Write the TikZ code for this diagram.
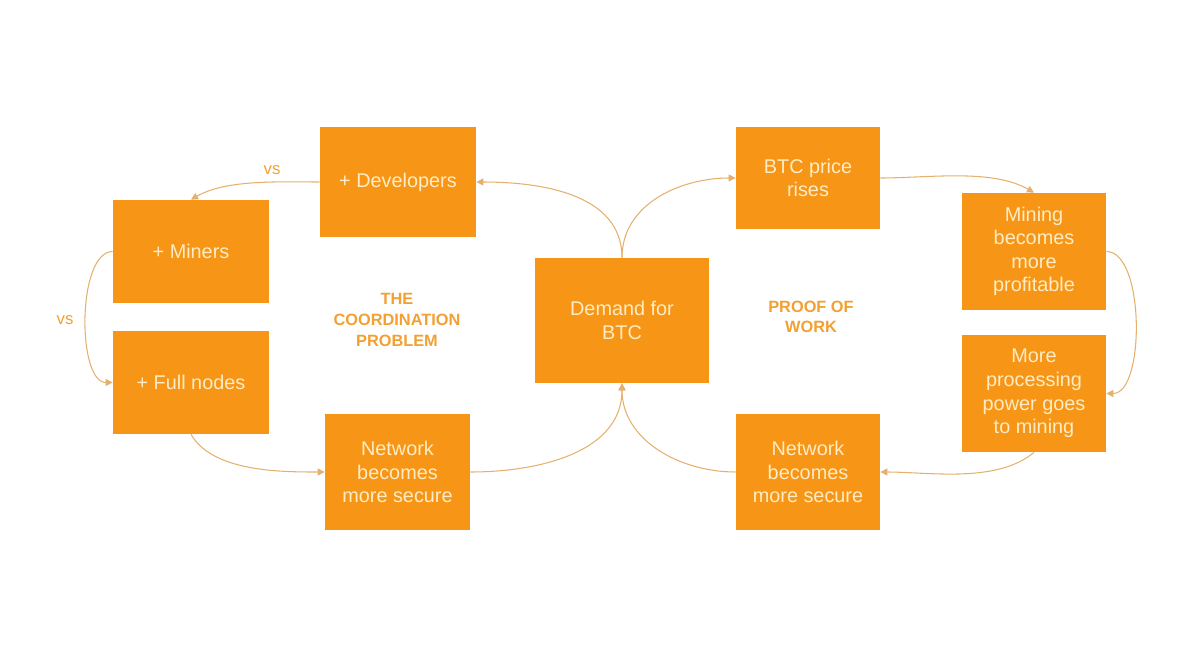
\documentclass[tikz,border=0pt]{standalone}
\usepackage{fontspec}
\setmainfont{Liberation Sans}
\usetikzlibrary{arrows.meta}
\definecolor{boxfill}{RGB}{247,150,22}
\definecolor{boxtext}{RGB}{255,236,196}
\definecolor{linecol}{RGB}{228,176,110}
\definecolor{labcol}{RGB}{242,160,50}
\tikzset{
  box/.style={fill=boxfill, draw=none, inner sep=0pt, align=center, text=boxtext,
    font=\fontsize{11.3}{13.4}\selectfont},
  conn/.style={draw=linecol, line width=0.6pt, -{Triangle[length=4pt,width=4pt]}},
  lab/.style={text=labcol, align=center, font=\bfseries\fontsize{9.3}{11.7}\selectfont},
  vslab/.style={text=labcol, font=\fontsize{9.5}{11}\selectfont}
}
\begin{document}
\begin{tikzpicture}[x=0.02cm,y=-0.02cm]
\useasboundingbox (0,0) rectangle (1200,659);
\node[box, minimum width=156*0.02cm, minimum height=110*0.02cm] (dev) at (398,182) {+ Developers};
\node[box, minimum width=156*0.02cm, minimum height=103*0.02cm] (miners) at (191,251.5) {+ Miners};
\node[box, minimum width=156*0.02cm, minimum height=103*0.02cm] (full) at (191,382.5) {+ Full nodes};
\node[box, minimum width=145*0.02cm, minimum height=116*0.02cm] (netL) at (397.5,472) {Network\\becomes\\more secure};
\node[box, minimum width=174*0.02cm, minimum height=125*0.02cm] (demand) at (622,320.5) {Demand for\\BTC};
\node[box, minimum width=144*0.02cm, minimum height=102*0.02cm] (btc) at (808,178) {BTC price\\rises};
\node[box, minimum width=144*0.02cm, minimum height=117*0.02cm] (mining) at (1034,251.5) {Mining\\becomes\\more\\profitable};
\node[box, minimum width=144*0.02cm, minimum height=117*0.02cm] (proc) at (1034,393.5) {More\\processing\\power goes\\to mining};
\node[box, minimum width=144*0.02cm, minimum height=116*0.02cm] (netR) at (808,472) {Network\\becomes\\more secure};

\node[lab] (coord) at (397,320) {THE\\COORDINATION\\PROBLEM};
\node[lab] (pow) at (811,317) {PROOF OF\\WORK};
\node[vslab] (vs1) at (272,170) {vs};
\node[vslab] (vs2) at (65,320) {vs};

\draw[conn] (demand.north) to[out=90,in=0] (dev.east);
\draw[conn] (demand.north) to[out=90,in=180] (btc.west);
\draw[conn] (dev.west) to[out=180,in=30,looseness=0.8] (miners.north);
\draw[conn] (miners.west) to[out=180,in=180,looseness=0.7] (full.west);
\draw[conn] (full.south) to[out=-60,in=180,looseness=0.8] (netL.west);
\draw[conn] (netL.east) to[out=0,in=-90] (demand.south);
\draw[conn] (netR.west) to[out=180,in=-90] (demand.south);
\draw[conn] (btc.east) to[out=0,in=150,looseness=0.8] (mining.north);
\draw[conn] (mining.east) to[out=0,in=0,looseness=0.7] (proc.east);
\draw[conn] (proc.south) to[out=-140,in=0,looseness=0.8] (netR.east);
\end{tikzpicture}
\end{document}
